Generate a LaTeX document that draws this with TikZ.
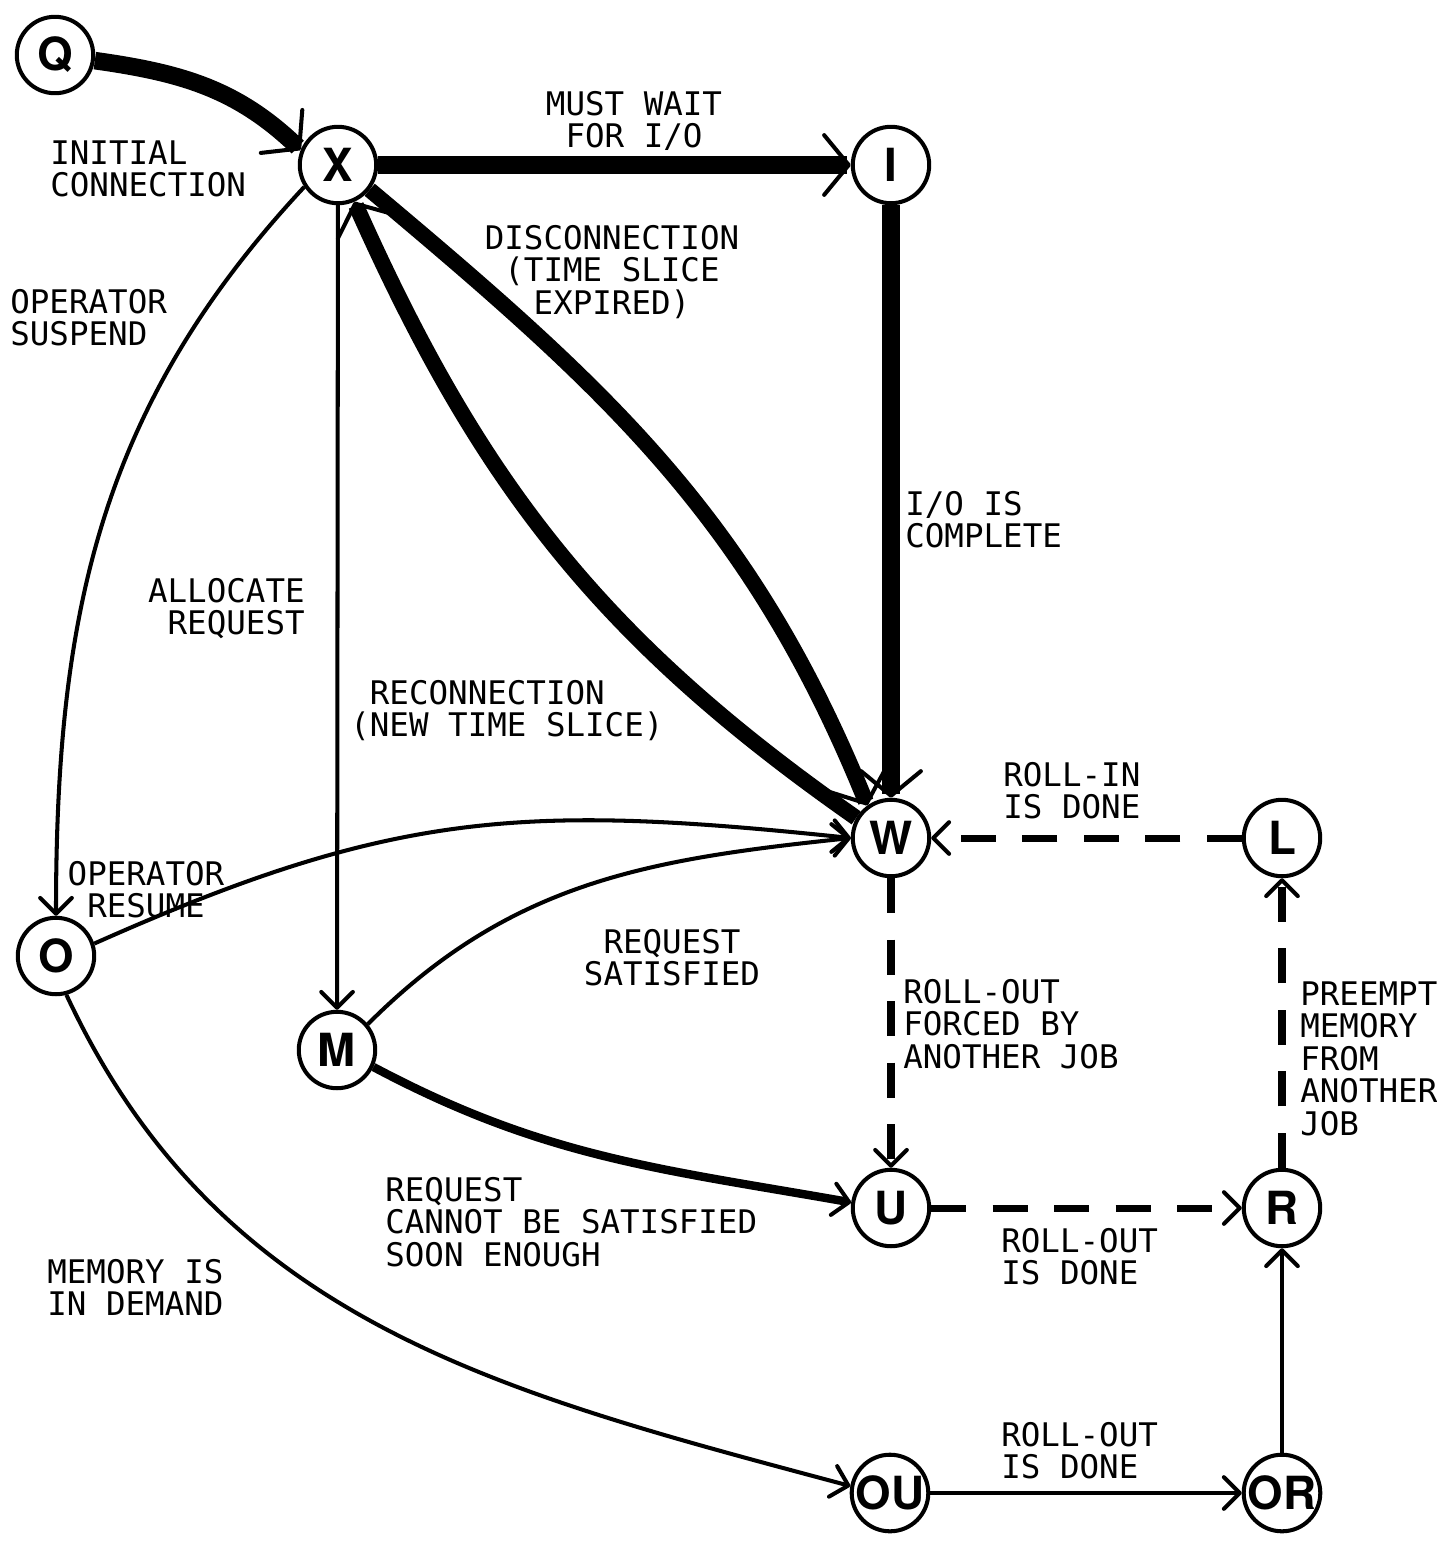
\documentclass[tikz,border=0pt]{standalone}
\usepackage{fontspec}
\newfontfamily\lblfamily{DejaVu Sans Mono}
\newfontfamily\stfamily{TeX Gyre Heros}
\usetikzlibrary{arrows.meta}
\begin{document}
\begin{tikzpicture}[x=0.02cm,y=-0.02cm,
  state/.style={circle,draw,line width=2.3pt,minimum size=43.5pt,inner sep=0pt,
    font=\stfamily\bfseries\fontsize{26}{26}\selectfont},
  lbl/.style={inner sep=0pt,font=\lblfamily\fontsize{18.5}{18.5}\selectfont,align=left},
  thintip/.tip={Straight Barb[length=9pt 0,width=18pt 0,line width=2.3pt 0,round]},
  heavytip/.tip={Straight Barb[length=14pt 0,width=34pt 0,line width=2.3pt 0,round]},
  thinedge/.style={line width=2.3pt,-thintip},
  medge/.style={line width=4.8pt,-thintip},
  heavyedge/.style={line width=9pt,-heavytip},
  dashedge/.style={line width=4pt,dash pattern=on 20pt off 15pt,-thintip}
]
\fill[white] (0,0) rectangle (1437,1543);
\useasboundingbox (0,0) rectangle (1437,1543);

% states
\node[state] (Q) at (55,55) {Q};
\node[state] (X) at (338,165) {X};
\node[state] (I) at (891,165) {I};
\node[state] (W) at (891,838) {W};
\node[state] (L) at (1282,838) {L};
\node[state] (O) at (56,956) {O};
\node[state] (M) at (337,1050) {M};
\node[state] (U) at (891,1208) {U};
\node[state] (R) at (1282,1208) {R};
\node[state] (OU) at (890,1493) {OU};
\node[state] (OR) at (1282,1493) {OR};

% labels
\node[lbl,anchor=north west] (lInit) at (50,140) {INITIAL\\CONNECTION};
\node[lbl,anchor=north,align=center] (lWait) at (634,91) {MUST WAIT\\FOR I/O};
\node[lbl,anchor=north west] (lSusp) at (10,289) {OPERATOR\\SUSPEND};
\node[lbl,anchor=north,align=center] (lDisc) at (612,225) {DISCONNECTION\\(TIME SLICE\\EXPIRED)};
\node[lbl,anchor=north west] (lIO) at (905,491) {I/O IS\\COMPLETE};
\node[lbl,anchor=north east,align=right] (lAlloc) at (305,578) {ALLOCATE\\REQUEST};
\node[lbl,anchor=north west] (lRecon) at (350,680) {\hphantom{(}RECONNECTION\\(NEW TIME SLICE)};
\node[lbl,anchor=north west] (lRollIn) at (1003,762) {ROLL-IN\\IS DONE};
\node[lbl,anchor=north,align=center] (lResume) at (146,861) {OPERATOR\\RESUME};
\node[lbl,anchor=north,align=center] (lSat) at (672,929) {REQUEST\\SATISFIED};
\node[lbl,anchor=north west] (lForced) at (903,979) {ROLL-OUT\\FORCED BY\\ANOTHER JOB};
\node[lbl,anchor=north west] (lPreempt) at (1300,981) {PREEMPT\\MEMORY\\FROM\\ANOTHER\\JOB};
\node[lbl,anchor=north west] (lCannot) at (385,1177) {REQUEST\\CANNOT BE SATISFIED\\SOON ENOUGH};
\node[lbl,anchor=north west] (lRollOutA) at (1001,1228) {ROLL-OUT\\IS DONE};
\node[lbl,anchor=north west] (lMem) at (47,1259) {MEMORY IS\\IN DEMAND};
\node[lbl,anchor=north west] (lRollOutB) at (1001,1422) {ROLL-OUT\\IS DONE};

% connectors
\draw[heavyedge,line width=10pt] (Q.-8) to[out=-8,in=136] (X.158);
\draw[heavyedge,line width=10.5pt] (X) -- (I);
\draw[heavyedge,line width=10.5pt] (I) -- (W);
\draw[heavyedge] (X.-38) to[out=-40,in=112] (W.126);
\draw[heavyedge] (W.150) to[out=145,in=-66] (X.-66);
\draw[thinedge] (X.-147) to[out=-133,in=90] (O.90);
\draw[thinedge] (X) -- (M);
\draw[thinedge] (O.18) to[out=24,in=174,looseness=1.1] (W.180);
\draw[thinedge] (M.40) to[out=45,in=186] (W.180);
\draw[medge] (M.-25) to[out=-28,in=170] (U.172);
\draw[thinedge] (O.-75) to[out=-65,in=165] (OU.170);
\draw[thinedge] (OU) -- (OR);
\draw[thinedge] (OR) -- (R);
\draw[dashedge] (W) -- (U);
\draw[dashedge] (U) -- (R);
\draw[dashedge] (R) -- (L);
\draw[dashedge] (L) -- (W);
\end{tikzpicture}
\end{document}
